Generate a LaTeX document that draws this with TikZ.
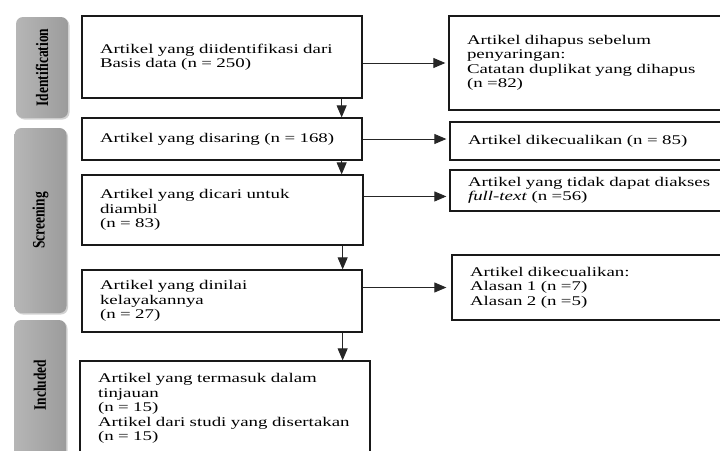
\documentclass[tikz,border=0pt]{standalone}
\usepackage{fontspec}
\setmainfont{Liberation Serif}[FakeStretch=1.42]
\newfontfamily\phasefont{Liberation Serif}[FakeStretch=0.77]
\usetikzlibrary{arrows.meta,shadows,calc}
\definecolor{phasegray}{HTML}{A9A9A9}
\tikzset{
  box/.style={draw=black!90, line width=1.3pt, fill=white, inner xsep=18pt, inner ysep=0pt,
    align=left, font=\fontsize{13.3}{14.5}\selectfont},
  phase/.style={rounded corners=7pt, left color=phasegray!85!white, right color=phasegray!92!black,
    draw=none, drop shadow={opacity=0.35, shadow xshift=1.5pt, shadow yshift=-1.5pt},
    minimum width=52pt, inner sep=0pt},
  phasetext/.style={rotate=90, font=\phasefont\bfseries\fontsize{17.5}{18}\selectfont},
  arr/.style={draw=black!85, line width=0.9pt, -{Triangle[length=12pt,width=10pt]}}
}
\begin{document}
\begin{tikzpicture}[x=1pt,y=-1pt]
\useasboundingbox (0,0) rectangle (720,450);
\clip (0,0) rectangle (720,450);
\fill[white] (0,0) rectangle (720,450);
% phase labels
\node[phase, minimum height=101pt] (p1) at (42,67.5) {};
\node[phasetext] (p1t) at (p1.center) {Identification};
\node[phase, minimum height=185pt] (p2) at (40.5,220.5) {};
\node[phasetext] (p2t) at (p2.center) {Screening};
\node[phase, minimum height=140pt] (p3) at (40,390) {};
\node[phasetext] (p3t) at (40,385) {Included};
% left boxes
\node[box, minimum width=280pt, minimum height=82pt, text width=244pt] (b1) at (222,57)
  {Artikel yang diidentifikasi dari\\Basis data (n = 250)};
\node[box, minimum width=280pt, minimum height=42pt, text width=244pt] (b2) at (222,139)
  {Artikel yang disaring (n = 168)};
\node[box, minimum width=281pt, minimum height=70pt, text width=245pt] (b3) at (222.5,210)
  {Artikel yang dicari untuk\\diambil\\(n = 83)};
\node[box, minimum width=280pt, minimum height=62pt, text width=244pt] (b4) at (222,301)
  {Artikel yang dinilai\\kelayakannya\\(n = 27)};
\node[box, minimum width=290pt, minimum height=95pt, text width=254pt] (b5) at (225,408.5)
  {Artikel yang termasuk dalam\\tinjauan\\(n = 15)\\Artikel dari studi yang disertakan\\(n = 15)};
% right boxes
\node[box, minimum width=311pt, minimum height=94pt, text width=275pt] (r1) at (604.5,63)
  {Artikel dihapus sebelum\\penyaringan:\\Catatan duplikat yang dihapus\\(n =82)};
\node[box, minimum width=310pt, minimum height=38pt, text width=274pt] (r2) at (605,141)
  {Artikel dikecualikan (n = 85)};
\node[box, minimum width=310pt, minimum height=41pt, text width=274pt] (r3) at (605,190.5)
  {Artikel yang tidak dapat diakses\\\textit{full-text} (n =56)};
\node[box, minimum width=308pt, minimum height=65pt, text width=272pt] (r4) at (606,287.5)
  {Artikel dikecualikan:\\Alasan 1 (n =7)\\Alasan 2 (n =5)};
% vertical arrows
\draw[arr] ([xshift=-21pt]b1.south east) -- ([xshift=-21pt]b1.south east |- b2.north);
\draw[arr] ([xshift=-21pt]b2.south east) -- ([xshift=-21pt]b2.south east |- b3.north);
\draw[arr] ([xshift=-21pt]b3.south east) -- ([xshift=-21pt]b3.south east |- b4.north);
\draw[arr] ([xshift=-20pt]b4.south east) -- ([xshift=-20pt]b4.south east |- b5.north);
% horizontal arrows
\draw[arr, shorten >=3pt] (b1.east |- r1.west) -- (r1.west);
\draw[arr, shorten >=3pt] (b2.east) -- (b2.east -| r2.west);
\draw[arr, shorten >=3pt] ($(b3.north east)!0.31!(b3.south east)$) coordinate (c3)
  -- (c3 -| r3.west);
\draw[arr, shorten >=5pt] (r4.west -| b4.east) -- (r4.west);
\end{tikzpicture}
\end{document}
